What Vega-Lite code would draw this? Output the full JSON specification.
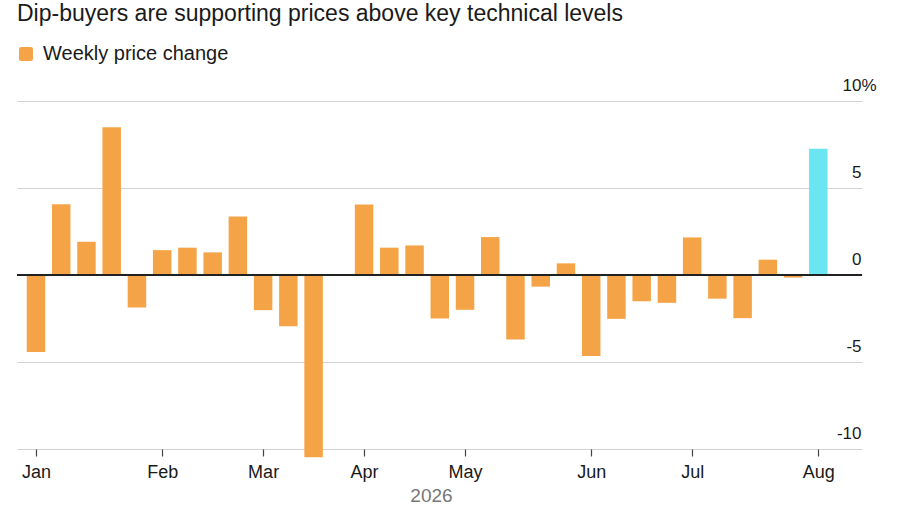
{
  "$schema": "https://vega.github.io/schema/vega-lite/v6.json",
  "width": 845,
  "height": 348,
  "autosize": {"type": "none"},
  "padding": {"left": 17, "top": 101, "right": 38, "bottom": 61},
  "background": "white",
  "title": {
    "text": "Dip-buyers are supporting prices above key technical levels",
    "anchor": "start",
    "frame": "group",
    "font": "Liberation Sans",
    "fontSize": 23,
    "fontWeight": "normal",
    "color": "#1a1a1a",
    "baseline": "alphabetic",
    "offset": 0
  },
  "config": {
    "view": {"stroke": null},
    "font": "Liberation Sans"
  },
  "data": {
    "values": [
      {"date": "2026-01-02", "value": -4.43, "type": "Weekly price change"},
      {"date": "2026-01-09", "value": 4.07, "type": "Weekly price change"},
      {"date": "2026-01-16", "value": 1.91, "type": "Weekly price change"},
      {"date": "2026-01-23", "value": 8.49, "type": "Weekly price change"},
      {"date": "2026-01-30", "value": -1.87, "type": "Weekly price change"},
      {"date": "2026-02-06", "value": 1.43, "type": "Weekly price change"},
      {"date": "2026-02-13", "value": 1.57, "type": "Weekly price change"},
      {"date": "2026-02-20", "value": 1.3, "type": "Weekly price change"},
      {"date": "2026-02-27", "value": 3.36, "type": "Weekly price change"},
      {"date": "2026-03-06", "value": -2.02, "type": "Weekly price change"},
      {"date": "2026-03-13", "value": -2.94, "type": "Weekly price change"},
      {"date": "2026-03-20", "value": -10.48, "type": "Weekly price change"},
      {"date": "2026-03-27", "value": 0.05, "type": "Weekly price change"},
      {"date": "2026-04-03", "value": 4.05, "type": "Weekly price change"},
      {"date": "2026-04-10", "value": 1.57, "type": "Weekly price change"},
      {"date": "2026-04-17", "value": 1.7, "type": "Weekly price change"},
      {"date": "2026-04-24", "value": -2.5, "type": "Weekly price change"},
      {"date": "2026-05-01", "value": -2.0, "type": "Weekly price change"},
      {"date": "2026-05-08", "value": 2.18, "type": "Weekly price change"},
      {"date": "2026-05-15", "value": -3.7, "type": "Weekly price change"},
      {"date": "2026-05-22", "value": -0.67, "type": "Weekly price change"},
      {"date": "2026-05-29", "value": 0.67, "type": "Weekly price change"},
      {"date": "2026-06-05", "value": -4.66, "type": "Weekly price change"},
      {"date": "2026-06-12", "value": -2.52, "type": "Weekly price change"},
      {"date": "2026-06-19", "value": -1.51, "type": "Weekly price change"},
      {"date": "2026-06-26", "value": -1.6, "type": "Weekly price change"},
      {"date": "2026-07-03", "value": 2.16, "type": "Weekly price change"},
      {"date": "2026-07-10", "value": -1.36, "type": "Weekly price change"},
      {"date": "2026-07-17", "value": -2.48, "type": "Weekly price change"},
      {"date": "2026-07-24", "value": 0.88, "type": "Weekly price change"},
      {"date": "2026-07-31", "value": -0.15, "type": "Weekly price change"},
      {"date": "2026-08-07", "value": 7.25, "type": "Latest week"}
    ]
  },
  "layer": [
    {
      "mark": {"type": "bar", "size": 18.5, "clip": false},
      "encoding": {
        "x": {
          "field": "date",
          "type": "temporal",
          "scale": {
            "type": "utc",
            "padding": 0,
            "domain": [
              {"year": 2025, "month": 12, "date": 27, "hours": 17, "minutes": 36, "utc": true},
              {"year": 2026, "month": 8, "date": 19, "hours": 2, "minutes": 40, "utc": true}
            ]
          },
          "axis": {
            "values": [
              {"year": 2026, "month": 1, "date": 2, "utc": true},
              {"year": 2026, "month": 2, "date": 6, "utc": true},
              {"year": 2026, "month": 3, "date": 6, "utc": true},
              {"year": 2026, "month": 4, "date": 3, "utc": true},
              {"year": 2026, "month": 5, "date": 1, "utc": true},
              {"year": 2026, "month": 6, "date": 5, "utc": true},
              {"year": 2026, "month": 7, "date": 3, "utc": true},
              {"year": 2026, "month": 8, "date": 7, "utc": true}
            ],
            "labelExpr": "utcFormat(datum.value, '%b')",
            "title": "2026",
            "titleFont": "Liberation Sans",
            "titleFontSize": 19,
            "titleFontWeight": "normal",
            "titleColor": "#777777",
            "titlePadding": 5,
            "titleX": 414,
            "titleAlign": "center",
            "domain": false,
            "grid": false,
            "ticks": true,
            "tickSize": 7,
            "tickOffset": 0,
            "tickColor": "#444444",
            "tickWidth": 1.2,
            "labelFont": "Liberation Sans",
            "labelFontSize": 18,
            "labelColor": "#1a1a1a",
            "labelPadding": 7,
            "labelOverlap": false
          }
        },
        "y": {
          "field": "value",
          "type": "quantitative",
          "scale": {"domain": [-10, 10], "nice": false, "zero": true},
          "axis": {
            "orient": "right",
            "values": [-10, -5, 0, 5, 10],
            "labelExpr": "datum.value == 10 ? '10%' : '' + datum.value",
            "title": null,
            "domain": false,
            "ticks": false,
            "tickSize": 0,
            "grid": true,
            "gridColor": "#d2d2d2",
            "gridWidth": 1,
            "labelFont": "Liberation Sans",
            "labelFontSize": 17,
            "labelColor": "#1a1a1a",
            "labelAlign": "right",
            "labelBaseline": "middle",
            "labelOffset": -16,
            "labelPadding": {"condition": {"test": "datum.value == 10", "value": 14}, "value": -1},
            "labelOverlap": false,
            "labelBound": false,
            "labelFlush": false
          }
        },
        "color": {
          "field": "type",
          "type": "nominal",
          "scale": {
            "domain": ["Weekly price change", "Latest week"],
            "range": ["#F4A447", "#6CE5F2"]
          },
          "legend": {
            "values": ["Weekly price change"],
            "title": null,
            "orient": "none",
            "legendX": -1,
            "legendY": -57,
            "padding": 0,
            "symbolType": "M -0.7 -1 L 0.7 -1 Q 1 -1 1 -0.7 L 1 0.7 Q 1 1 0.7 1 L -0.7 1 Q -1 1 -1 0.7 L -1 -0.7 Q -1 -1 -0.7 -1 Z",
            "symbolSize": 196,
            "symbolStrokeWidth": 0,
            "labelFont": "Liberation Sans",
            "labelFontSize": 20,
            "labelColor": "#1a1a1a",
            "labelOffset": 7,
            "labelLimit": 400
          }
        }
      }
    },
    {
      "mark": {"type": "rule", "color": "#222222", "strokeWidth": 1.5},
      "encoding": {"y": {"datum": 0}}
    }
  ]
}
